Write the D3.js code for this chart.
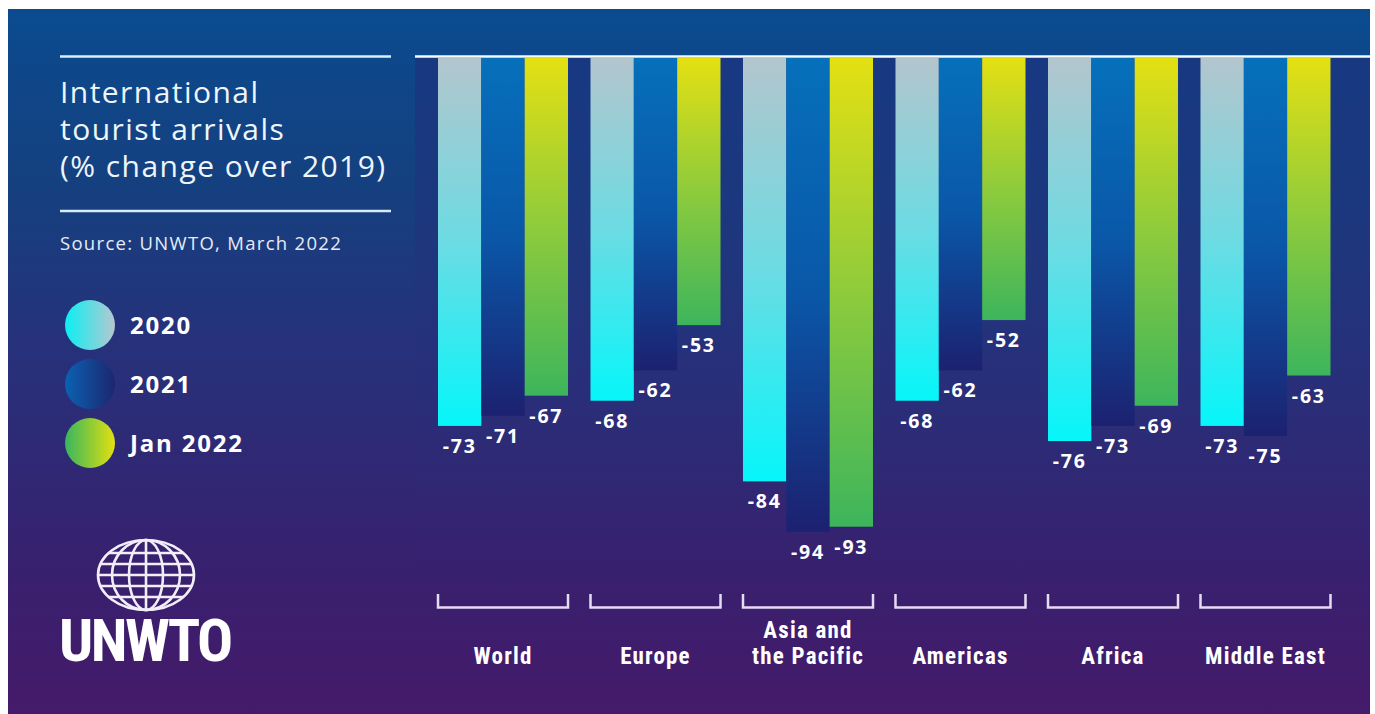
<!DOCTYPE html>
<html>
<head>
<meta charset="utf-8">
<script src="https://cdn.jsdelivr.net/npm/d3@7"></script>
<style>
  html, body { margin: 0; padding: 0; background: #ffffff; }
  svg { display: block; }
</style>
</head>
<body>
<svg id="chart" width="1375" height="714"></svg>
<script>
// ---- data ----
const categories = ["World", "Europe", "Asia and the Pacific", "Americas", "Africa", "Middle East"];
const categoryLines = [["World"], ["Europe"], ["Asia and", "the Pacific"], ["Americas"], ["Africa"], ["Middle East"]];
const seriesNames = ["2020", "2021", "Jan 2022"];
const values2020 = [-73, -68, -84, -68, -76, -73];
const values2021 = [-71, -62, -94, -62, -73, -75];
const valuesJan2022 = [-67, -53, -93, -52, -69, -63];
const titleLines = ["International", "tourist arrivals", "(% change over 2019)"];
const sourceText = "Source: UNWTO, March 2022";

const seriesValues = [values2020, values2021, valuesJan2022];

const svg = d3.select("#chart");
const W = 1375, H = 714;
const defs = svg.append("defs");

// background gradient
const bg = defs.append("linearGradient").attr("id", "bg").attr("x1", 0).attr("y1", 0).attr("x2", 0).attr("y2", 1);
[[0, "#0a4b8f"], [0.25, "#15407f"], [0.5, "#28307a"], [0.8, "#38206e"], [1, "#451a6a"]].forEach(([o, c]) =>
  bg.append("stop").attr("offset", o).attr("stop-color", c));

// chart-area darkening
const shade = defs.append("linearGradient").attr("id", "shade").attr("x1", 0).attr("y1", 0).attr("x2", 0).attr("y2", 1);
shade.append("stop").attr("offset", 0).attr("stop-color", "#1a3580").attr("stop-opacity", 0.85);
shade.append("stop").attr("offset", 0.6).attr("stop-color", "#25307a").attr("stop-opacity", 0.3);
shade.append("stop").attr("offset", 1).attr("stop-color", "#2d2a76").attr("stop-opacity", 0);

// bar gradients (vertical)
const barStops = [
  [[0, "#b3c5cd"], [0.5, "#6cdbe3"], [1, "#06f6fa"]],
  [[0, "#0670bb"], [0.5, "#0a57a8"], [1, "#1c2170"]],
  [[0, "#e4e012"], [0.5, "#8ecb3c"], [1, "#3db55c"]]
];
barStops.forEach((stops, i) => {
  const g = defs.append("linearGradient").attr("id", "bar" + i).attr("x1", 0).attr("y1", 0).attr("x2", 0).attr("y2", 1);
  stops.forEach(([o, c]) => g.append("stop").attr("offset", o).attr("stop-color", c));
});
// legend gradients (horizontal)
const legStops = [
  [[0, "#0aeff3"], [1, "#b5c8d0"]],
  [[0, "#0a62b2"], [1, "#1d2670"]],
  [[0, "#38b65e"], [1, "#e2e010"]]
];
legStops.forEach((stops, i) => {
  const g = defs.append("linearGradient").attr("id", "leg" + i).attr("x1", 0).attr("y1", 0).attr("x2", 1).attr("y2", 0);
  stops.forEach(([o, c]) => g.append("stop").attr("offset", o).attr("stop-color", c));
});

// background
svg.append("rect").attr("x", 8).attr("y", 9).attr("width", 1362).attr("height", H - 9).attr("fill", "url(#bg)");

// ---- scales ----
const x0 = d3.scaleBand().domain(categories).range([438, 1330.5]).paddingInner(0.1475).paddingOuter(0);
const x1 = d3.scaleBand().domain(seriesNames).range([0, x0.bandwidth()]).padding(0);
const y = d3.scaleLinear().domain([0, -100]).range([58, 562]);

// chart area shade
svg.append("rect").attr("x", 415).attr("y", y(0)).attr("width", 1370 - 415).attr("height", 520)
  .attr("fill", "url(#shade)");

// bars
const groups = svg.append("g").selectAll("g").data(categories).join("g")
  .attr("transform", d => `translate(${x0(d)},0)`);

groups.each(function(cat, ci) {
  const g = d3.select(this);
  seriesNames.forEach((s, si) => {
    const v = seriesValues[si][ci];
    g.append("rect")
      .attr("x", x1(s)).attr("y", y(0))
      .attr("width", x1.bandwidth()).attr("height", y(v) - y(0))
      .attr("fill", `url(#bar${si})`);
    g.append("text")
      .attr("x", x1(s) + x1.bandwidth() / 2).attr("y", y(v) + 27)
      .attr("text-anchor", "middle")
      .attr("fill", "#ffffff")
      .attr("font-family", "'Open Sans', sans-serif")
      .attr("font-weight", 700).attr("font-size", 19.5).attr("letter-spacing", 1.8)
      .text(v);
  });
});

// top baseline
svg.append("line").attr("x1", 415).attr("x2", 1370).attr("y1", 56.5).attr("y2", 56.5)
  .attr("stroke", "#f4fbff").attr("stroke-width", 2.5);

// category brackets and labels
const brk = svg.append("g");
categories.forEach((c, i) => {
  const xs = x0(c), xe = x0(c) + x0.bandwidth();
  brk.append("path")
    .attr("d", `M${xs},594 V607.5 H${xe} V594`)
    .attr("fill", "none").attr("stroke", "#e6dcf2").attr("stroke-width", 2.5);
  const lines = categoryLines[i];
  lines.forEach((ln, li) => {
    brk.append("text")
      .attr("x", xs + x0.bandwidth() / 2)
      .attr("y", 664 - (lines.length - 1 - li) * 26)
      .attr("text-anchor", "middle")
      .attr("fill", "#ffffff")
      .attr("font-family", "'Liberation Sans Narrow', 'Roboto Condensed', Roboto, sans-serif")
      .attr("font-weight", 700).attr("font-size", 23).attr("letter-spacing", 1.2)
      .text(ln);
  });
});

// title block
svg.append("line").attr("x1", 60).attr("x2", 391).attr("y1", 56.5).attr("y2", 56.5)
  .attr("stroke", "#d8f0fa").attr("stroke-width", 2.5);
svg.append("line").attr("x1", 60).attr("x2", 391).attr("y1", 211).attr("y2", 211)
  .attr("stroke", "#d8ecf8").attr("stroke-width", 2.5);
titleLines.forEach((t, i) => {
  svg.append("text").attr("x", 60).attr("y", 103 + i * 37)
    .attr("fill", "#eef6fb")
    .attr("font-family", "'Open Sans', sans-serif").attr("font-size", 30).attr("font-weight", 400)
    .attr("letter-spacing", 1.45)
    .text(t);
});
svg.append("text").attr("x", 60).attr("y", 250)
  .attr("fill", "#e4ecf6")
  .attr("font-family", "'Open Sans', sans-serif").attr("font-size", 18.5).attr("letter-spacing", 1.3)
  .text(sourceText);

// legend
seriesNames.forEach((s, i) => {
  const cy = 325 + i * 59;
  svg.append("circle").attr("cx", 90).attr("cy", cy).attr("r", 25).attr("fill", `url(#leg${i})`);
  svg.append("text").attr("x", 130).attr("y", cy + 8.5)
    .attr("fill", "#ffffff")
    .attr("font-family", "'Open Sans', sans-serif").attr("font-weight", 700).attr("font-size", 24)
    .attr("letter-spacing", 1.8)
    .text(s);
});

// logo: globe
const globe = svg.append("g").attr("fill", "none").attr("stroke", "#f2eef8").attr("stroke-width", 2.6);
const gcx = 146, gcy = 575, grx = 48, gry = 35;
globe.append("ellipse").attr("cx", gcx).attr("cy", gcy).attr("rx", grx).attr("ry", gry);
[34, 17].forEach(rx => globe.append("ellipse").attr("cx", gcx).attr("cy", gcy).attr("rx", rx).attr("ry", gry));
globe.append("line").attr("x1", gcx).attr("x2", gcx).attr("y1", gcy - gry).attr("y2", gcy + gry);
[-22, -11, 0, 11, 22].forEach(dy => {
  const hw = grx * Math.sqrt(1 - (dy / gry) * (dy / gry));
  globe.append("line").attr("x1", gcx - hw).attr("x2", gcx + hw).attr("y1", gcy + dy).attr("y2", gcy + dy);
});
svg.append("text").attr("x", 59).attr("y", 661)
  .attr("fill", "#ffffff")
  .attr("font-family", "'Liberation Sans Narrow', 'Roboto Condensed', Roboto, sans-serif")
  .attr("font-weight", 700).attr("font-size", 60).attr("letter-spacing", -2.5)
  .text("UNWTO");
</script>
</body>
</html>
